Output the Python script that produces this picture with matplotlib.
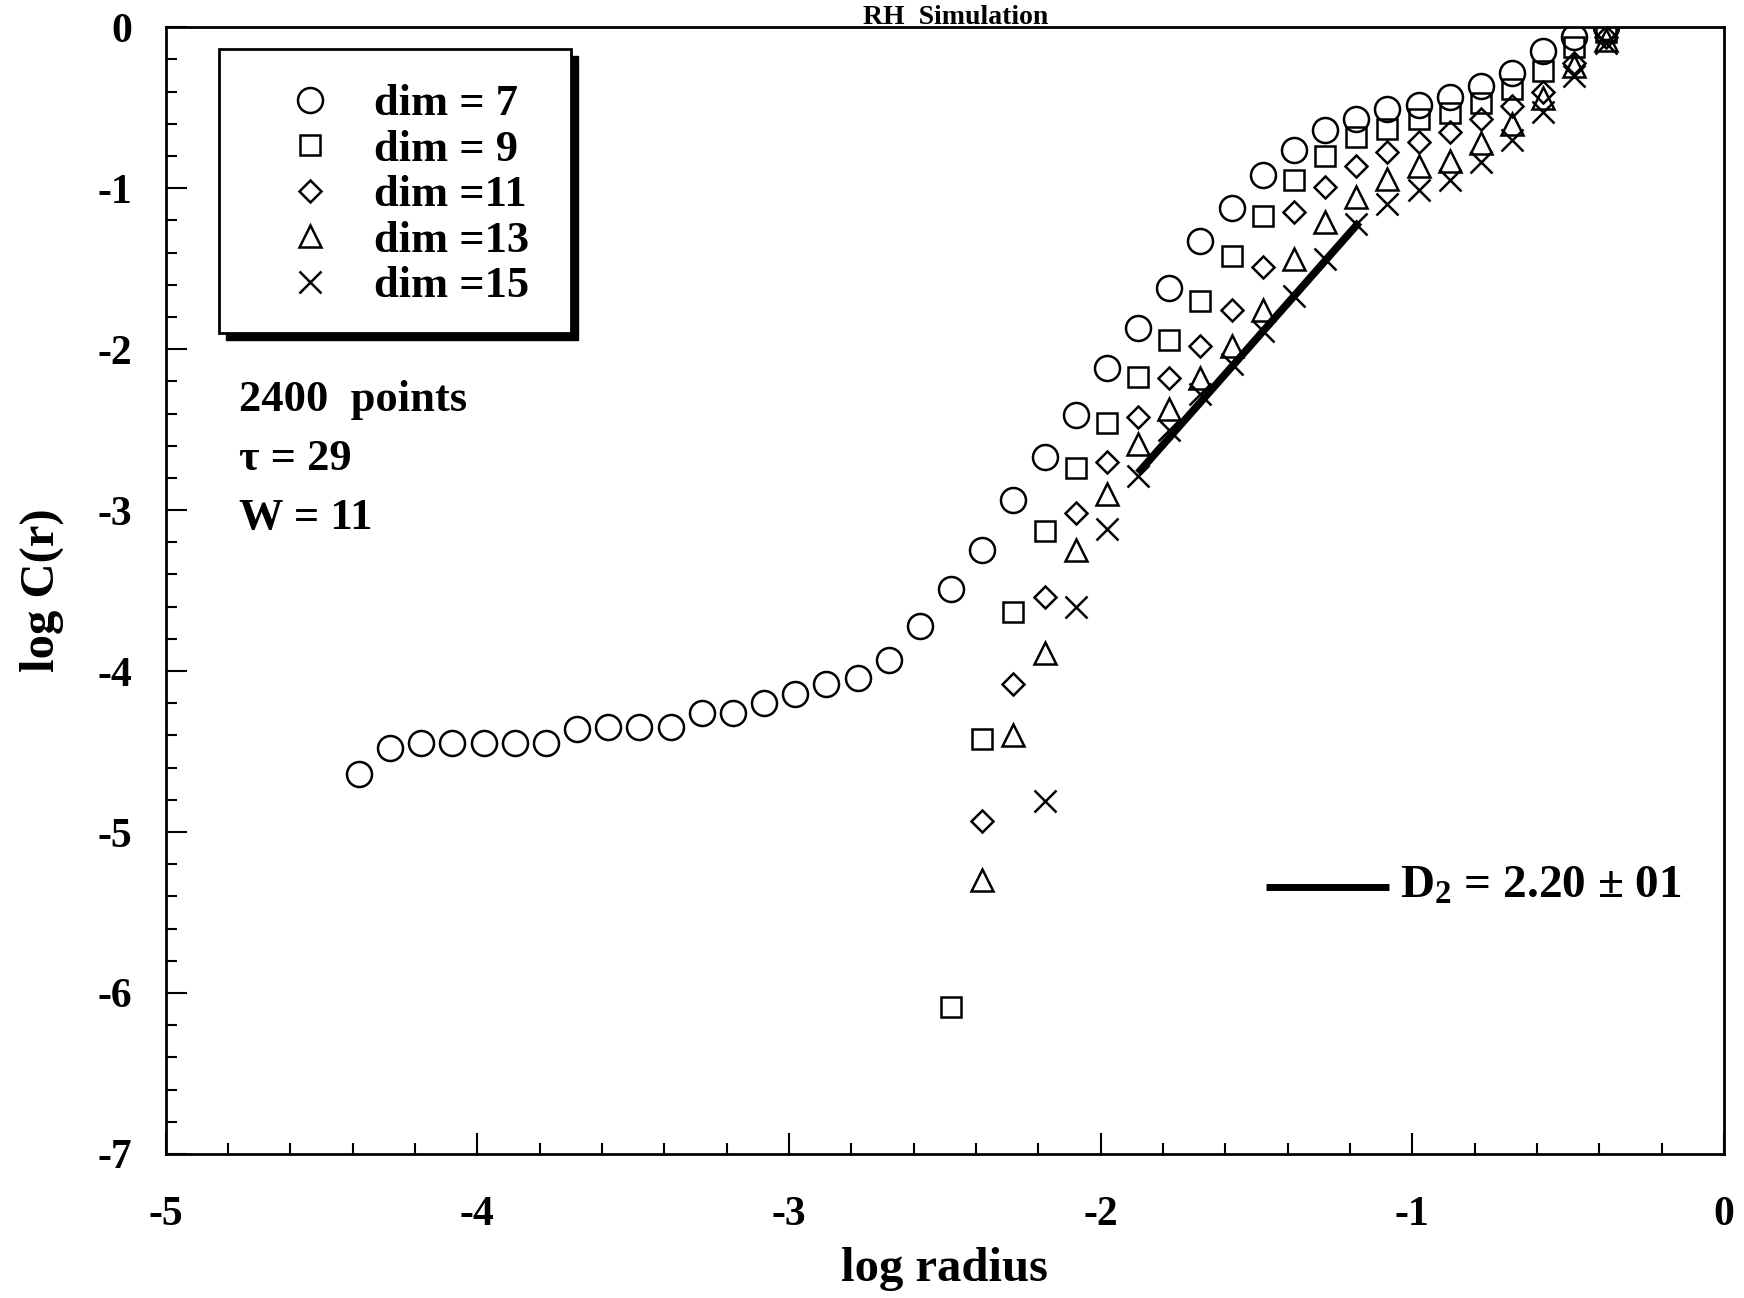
import matplotlib
matplotlib.use("Agg")
import matplotlib.pyplot as plt
from matplotlib.patches import Rectangle
from matplotlib.ticker import MultipleLocator

plt.rcParams['font.family'] = ['Liberation Serif', 'DejaVu Serif']
plt.rcParams['font.weight'] = 'bold'
plt.rcParams['mathtext.default'] = 'regular'

# log radius / log C(r) values
logr_7 = [-4.38, -4.28, -4.18, -4.08, -3.98, -3.88, -3.78, -3.68, -3.58, -3.48, -3.38,
          -3.28, -3.18, -3.08, -2.98, -2.88, -2.78, -2.68, -2.58, -2.48, -2.38, -2.28,
          -2.18, -2.08, -1.98, -1.88, -1.78, -1.68, -1.58, -1.48, -1.38, -1.28, -1.18,
          -1.08, -0.98, -0.88, -0.78, -0.68, -0.58, -0.48, -0.38]
logc_7 = [-4.64, -4.48, -4.45, -4.45, -4.45, -4.45, -4.45, -4.36, -4.35, -4.35, -4.35,
          -4.26, -4.26, -4.20, -4.14, -4.08, -4.04, -3.93, -3.72, -3.49, -3.25, -2.94,
          -2.67, -2.41, -2.12, -1.87, -1.62, -1.33, -1.12, -0.92, -0.76, -0.64, -0.57,
          -0.51, -0.48, -0.435, -0.365, -0.285, -0.15, -0.06, 0.0]

logr_9 = [-2.48, -2.38, -2.28, -2.18, -2.08, -1.98, -1.88, -1.78, -1.68, -1.58, -1.48,
          -1.38, -1.28, -1.18, -1.08, -0.98, -0.88, -0.78, -0.68, -0.58, -0.48, -0.38]
logc_9 = [-6.09, -4.42, -3.63, -3.13, -2.74, -2.46, -2.17, -1.94, -1.70, -1.42, -1.17,
          -0.95, -0.80, -0.68, -0.63, -0.57, -0.53, -0.47, -0.385, -0.27, -0.12, -0.03]

logr_11 = [-2.38, -2.28, -2.18, -2.08, -1.98, -1.88, -1.78, -1.68, -1.58, -1.48, -1.38,
           -1.28, -1.18, -1.08, -0.98, -0.88, -0.78, -0.68, -0.58, -0.48, -0.38]
logc_11 = [-4.93, -4.08, -3.54, -3.02, -2.70, -2.42, -2.18, -1.98, -1.755, -1.49, -1.15,
           -0.995, -0.86, -0.775, -0.71, -0.65, -0.57, -0.49, -0.40, -0.22, -0.06]

logr_13 = [-2.38, -2.28, -2.18, -2.08, -1.98, -1.88, -1.78, -1.68, -1.58, -1.48, -1.38,
           -1.28, -1.18, -1.08, -0.98, -0.88, -0.78, -0.68, -0.58, -0.48, -0.38]
logc_13 = [-5.30, -4.40, -3.89, -3.25, -2.90, -2.59, -2.37, -2.18, -1.98, -1.755, -1.44,
           -1.21, -1.055, -0.94, -0.86, -0.83, -0.72, -0.60, -0.44, -0.24, -0.08]

logr_15 = [-2.18, -2.08, -1.98, -1.88, -1.78, -1.68, -1.58, -1.48, -1.38, -1.28, -1.18,
           -1.08, -0.98, -0.88, -0.78, -0.68, -0.58, -0.48, -0.38]
logc_15 = [-4.81, -3.60, -3.12, -2.79, -2.50, -2.28, -2.09, -1.89, -1.67, -1.44, -1.22,
           -1.10, -1.01, -0.95, -0.84, -0.70, -0.525, -0.30, -0.10]

# fitted slope segment
fit_x = [-1.88, -1.17]
fit_y = [-2.77, -1.21]
d2_key_x = [-1.47, -1.075]
d2_key_y = [-5.34, -5.34]

xticks = [-5, -4, -3, -2, -1, 0]
yticks = [-7, -6, -5, -4, -3, -2, -1, 0]

fig = plt.figure(figsize=(17.44, 12.98), dpi=100)
ax = fig.add_axes([0.095, 0.111, 0.8935, 0.868])

mk = dict(linestyle='none', markerfacecolor='none', markeredgecolor='black', markeredgewidth=1.8)
ax.plot(logr_7, logc_7, marker='o', markersize=18, label='dim = 7', **mk)
ax.plot(logr_9, logc_9, marker='s', markersize=15, label='dim = 9', **mk)
ax.plot(logr_11, logc_11, marker='D', markersize=11, label='dim =11', **mk)
ax.plot(logr_13, logc_13, marker='^', markersize=16, label='dim =13', **mk)
ax.plot(logr_15, logc_15, marker='x', markersize=16, label='dim =15',
        linestyle='none', color='black', markeredgewidth=1.8)

ax.plot(fit_x, fit_y, color='black', linewidth=5.5, solid_capstyle='butt')
ax.plot(d2_key_x, d2_key_y, color='black', linewidth=5, solid_capstyle='butt')
ax.text(-1.04, -5.34, r'$\mathregular{D_2}$ = 2.20 ± 01', fontsize=34, fontweight='bold',
        va='center', ha='left')

ax.set_xlim(-5, 0)
ax.set_ylim(-7, 0)
ax.set_xticks(xticks)
ax.set_xticklabels([str(t) for t in xticks])
ax.set_yticks(yticks)
ax.set_yticklabels([str(t) for t in yticks])
ax.xaxis.set_minor_locator(MultipleLocator(0.2))
ax.yaxis.set_minor_locator(MultipleLocator(0.2))
ax.tick_params(which='both', direction='in', top=False, right=False, width=1.5)
ax.tick_params(which='major', length=15, labelsize=30)
ax.tick_params(which='minor', length=8)
ax.tick_params(axis='x', pad=30)
ax.tick_params(axis='y', pad=24)
for s in ax.spines.values():
    s.set_linewidth(2)

ax.set_xlabel('log radius', fontsize=35, fontweight='bold', labelpad=10)
ax.set_ylabel('log C(r)', fontsize=35, fontweight='bold', labelpad=24)

# legend frame with a hard black shadow
ax.add_patch(Rectangle((0.0385, 0.7225), 0.226, 0.252, transform=ax.transAxes,
                       facecolor='black', edgecolor='black', zorder=5))
ax.add_patch(Rectangle((0.034, 0.7285), 0.226, 0.252, transform=ax.transAxes,
                       facecolor='white', edgecolor='black', linewidth=2, zorder=6))
leg = ax.legend(loc='center left', bbox_to_anchor=(0.0725, 0.851), frameon=False,
                fontsize=32, handlelength=1.4, handletextpad=0.75, labelspacing=0.12,
                borderpad=0, borderaxespad=0, markerscale=1.0)
leg.set_zorder(7)

ax.text(0.047, 0.669, '2400  points', transform=ax.transAxes, fontsize=32, va='center')
ax.text(0.047, 0.6167, 'τ = 29', transform=ax.transAxes, fontsize=32, va='center')
ax.text(0.047, 0.5643, 'W = 11', transform=ax.transAxes, fontsize=32, va='center')

# title squeezed into the thin strip above the frame
fig.text(0.548, 0.9815, 'RH  Simulation', fontsize=20, fontweight='bold',
         ha='center', va='baseline')

fig.savefig('out.png', dpi=100)
